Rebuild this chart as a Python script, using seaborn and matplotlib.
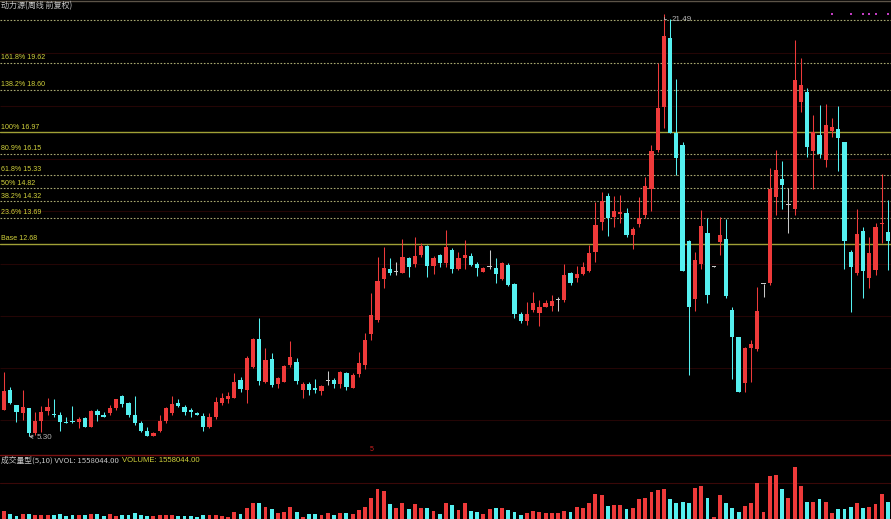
import numpy as np
import pandas as pd
import seaborn as sns
import matplotlib.pyplot as plt
from matplotlib.lines import Line2D
from matplotlib.transforms import blended_transform_factory

title = "动力源(周线 前复权)"

# weekly candles
opens = [6.32, 7.08, 6.50, 6.21, 6.39, 5.45, 5.91, 6.28, 6.16, 6.12,
         5.86, 5.89, 5.84, 6.00, 5.67, 6.28, 6.12, 6.19, 6.40, 6.85,
         6.57, 6.11, 5.81, 5.51, 5.33, 5.51, 5.91, 6.19, 6.57, 6.44,
         6.32, 6.21, 6.09, 5.65, 6.04, 6.57, 6.74, 6.79, 7.47, 7.10,
         7.98, 9.03, 7.40, 8.26, 7.30, 7.40, 8.04, 8.16, 7.08, 7.30,
         7.17, 7.06, 7.43, 7.45, 7.30, 7.72, 7.17, 7.68, 8.04, 9.24,
         9.78, 11.34, 11.72, 11.62, 11.58, 12.13, 11.93, 12.26, 12.59, 11.83,
         12.25, 11.95, 12.45, 11.72, 12.14, 12.22, 11.90, 11.62, 11.81, 11.77,
         11.33, 11.89, 11.13, 10.01, 9.72, 10.15, 10.04, 10.28, 10.30, 10.53,
         10.53, 11.56, 11.37, 11.53, 11.66, 12.39, 13.51, 14.52, 13.70, 13.83,
         13.87, 13.03, 13.45, 13.79, 14.79, 16.27, 17.94, 20.59, 16.94, 16.48,
         12.81, 10.56, 11.91, 13.12, 11.81, 12.77, 12.86, 10.16, 9.10, 7.34,
         8.68, 8.64, 11.15, 11.18, 14.48, 15.16, 14.18, 14.01, 18.14, 18.52,
         16.26, 16.86, 15.90, 17.02, 17.09, 16.59, 12.36, 11.56, 13.17, 11.37,
         11.67, 13.45, 13.15]
highs = [7.78, 7.19, 6.51, 7.08, 6.41, 6.25, 6.47, 6.79, 6.74, 6.23,
         6.06, 6.48, 6.06, 6.06, 6.32, 6.35, 6.25, 6.51, 6.75, 6.89,
         6.63, 6.85, 5.91, 5.66, 5.48, 6.12, 6.44, 6.85, 6.73, 6.51,
         6.38, 6.25, 6.19, 6.19, 6.83, 6.98, 7.02, 7.73, 7.59, 8.40,
         9.08, 9.84, 8.68, 8.49, 7.59, 8.05, 8.98, 8.30, 7.40, 7.40,
         7.50, 7.27, 7.81, 7.54, 7.81, 7.78, 7.72, 8.55, 9.26, 10.79,
         12.19, 12.58, 12.15, 11.98, 12.87, 12.19, 12.95, 12.71, 12.64, 12.23,
         12.29, 13.23, 12.51, 12.39, 12.82, 12.32, 12.00, 11.80, 12.45, 12.13,
         12.00, 11.96, 11.17, 10.06, 10.47, 10.85, 10.53, 10.53, 10.71, 10.64,
         11.91, 11.62, 11.85, 12.00, 12.64, 14.30, 14.69, 14.62, 14.52, 14.56,
         14.05, 13.34, 14.47, 15.26, 16.48, 19.61, 21.49, 21.30, 19.00, 16.60,
         12.83, 12.39, 13.97, 13.67, 11.83, 13.73, 13.63, 10.25, 9.13, 8.74,
         9.00, 11.04, 11.15, 15.58, 16.27, 15.87, 14.82, 20.50, 19.80, 18.66,
         17.61, 18.01, 18.05, 17.50, 17.97, 16.60, 12.45, 14.01, 13.33, 12.94,
         13.47, 15.36, 14.36]
lows = [6.30, 6.55, 5.87, 5.93, 5.30, 5.36, 5.48, 6.12, 6.06, 5.51,
        5.80, 5.82, 5.61, 5.65, 5.66, 5.91, 6.03, 6.12, 6.32, 6.44,
        6.06, 5.74, 5.48, 5.32, 5.31, 5.48, 5.83, 6.12, 6.42, 6.12,
        6.06, 6.11, 5.52, 5.61, 5.96, 6.51, 6.58, 6.77, 7.02, 6.58,
        7.93, 7.27, 7.35, 7.21, 7.16, 7.37, 7.98, 7.31, 6.76, 6.89,
        6.96, 6.89, 7.27, 7.15, 7.15, 7.08, 7.15, 7.59, 7.89, 9.00,
        9.70, 10.98, 11.49, 11.49, 11.56, 11.42, 11.81, 12.19, 11.43, 11.52,
        11.81, 11.81, 11.56, 11.68, 11.72, 11.84, 11.46, 11.59, 11.73, 11.20,
        11.30, 11.07, 9.83, 9.64, 9.57, 10.08, 9.54, 10.25, 10.12, 10.12,
        10.47, 11.11, 11.24, 11.49, 11.62, 12.00, 13.22, 12.99, 13.34, 13.50,
        12.94, 12.48, 13.34, 13.67, 13.96, 16.22, 17.12, 16.93, 15.31, 11.64,
        7.64, 10.12, 11.71, 10.41, 11.79, 12.26, 10.60, 7.50, 6.99, 7.02,
        7.40, 8.59, 10.66, 11.11, 13.79, 14.01, 13.11, 13.79, 17.75, 16.03,
        14.78, 15.97, 15.64, 16.79, 15.49, 11.71, 10.08, 11.49, 10.61, 10.98,
        11.49, 12.71, 11.68]
closes = [7.06, 6.60, 6.24, 6.44, 5.45, 5.91, 6.24, 6.42, 6.11, 5.84,
          5.82, 5.84, 5.96, 5.67, 6.29, 6.11, 6.06, 6.40, 6.73, 6.56,
          6.12, 5.83, 5.51, 5.33, 5.45, 5.91, 6.38, 6.53, 6.47, 6.25,
          6.23, 6.14, 5.65, 6.04, 6.63, 6.79, 6.87, 7.39, 7.12, 8.30,
          9.03, 7.41, 8.23, 7.27, 7.53, 8.00, 8.35, 7.43, 7.30, 7.08,
          7.08, 7.24, 7.43, 7.31, 7.76, 7.21, 7.66, 8.11, 9.00, 9.97,
          11.28, 11.75, 11.57, 11.62, 12.17, 11.80, 12.23, 12.59, 11.84, 12.15,
          11.94, 12.57, 11.73, 12.13, 12.26, 11.89, 11.75, 11.75, 11.81, 11.53,
          11.96, 11.12, 10.01, 9.72, 9.99, 10.42, 10.28, 10.41, 10.51, 10.53,
          11.49, 11.20, 11.54, 11.80, 12.32, 13.41, 14.32, 13.67, 13.96, 13.91,
          13.03, 13.24, 13.67, 14.89, 16.26, 17.90, 20.66, 16.95, 15.99, 11.66,
          10.28, 12.05, 13.36, 10.72, 11.81, 13.04, 10.67, 9.13, 7.02, 8.70,
          8.83, 10.12, 11.15, 14.78, 15.52, 14.94, 14.18, 18.97, 18.78, 16.41,
          16.99, 16.13, 17.24, 17.18, 16.73, 12.81, 11.78, 13.06, 11.66, 12.35,
          13.33, 13.50, 12.81]
# weekly volume, 10k shares
vol_wan = [69, 45, 27, 45, 45, 36, 39, 39, 39, 42,
           30, 39, 33, 33, 45, 45, 30, 45, 27, 39,
           36, 51, 33, 27, 24, 33, 33, 33, 30, 30,
           27, 21, 33, 33, 33, 30, 21, 60, 45, 96,
           147, 141, 111, 90, 57, 63, 111, 60, 21, 45,
           42, 36, 57, 39, 54, 51, 48, 84, 111, 186,
           270, 252, 132, 102, 141, 87, 135, 102, 99, 75,
           45, 141, 126, 81, 147, 72, 63, 45, 90, 96,
           99, 78, 66, 39, 57, 72, 63, 51, 51, 51,
           72, 63, 111, 96, 141, 225, 216, 117, 126, 126,
           90, 96, 177, 186, 246, 261, 267, 177, 141, 153,
           141, 276, 297, 186, 15, 216, 147, 99, 66, 117,
           141, 321, 66, 387, 396, 267, 186, 465, 297, 156,
           156, 177, 153, 57, 87, 87, 111, 147, 102, 111,
           135, 225, 155.8044]
last_vol = "1558044.00"

fib_labels = ["161.8% 19.62", "138.2% 18.60", "100% 16.97", "80.9% 16.15",
              "61.8% 15.33", "50% 14.82", "38.2% 14.32", "23.6% 13.69", "Base 12.68"]
fib_prices = [19.62, 18.60, 16.97, 16.15, 15.33, 14.82, 14.32, 13.69, 12.68]
solid_levels = ["100% 16.97", "Base 12.68"]
top_level = 21.26
grid_prices = [19.99, 17.97, 15.95, 13.93, 11.93, 9.92, 7.91, 5.92]
vol_grid = 321
dot_weeks = [133, 136, 138, 139, 140, 142]
max_week, max_price = 106, 21.49
min_week, min_price = 4, 5.30

UP, DOWN, FLAT = "#ee3a3a", "#55f0f0", "#c8c8c8"
BG = "black"

sns.set_theme(style="dark", rc={"axes.facecolor": BG, "figure.facecolor": BG})
plt.rcParams["font.family"] = ["Liberation Sans Narrow", "Liberation Sans", "DejaVu Sans"]
cjk = ["Noto Sans CJK SC", "DejaVu Sans"]

df = pd.DataFrame({"open": opens, "high": highs, "low": lows,
                   "close": closes, "vol": vol_wan})
df["week"] = np.arange(len(df))
df["kind"] = np.where(df.close > df.open, "up",
                      np.where(df.close < df.open, "down", "flat"))
pal = {"up": UP, "down": DOWN, "flat": FLAT}
cols = df.kind.map(pal)
# flat weeks get a red volume bar
df["vkind"] = df.kind.replace("flat", "up")

W, H = 891, 519
fig = plt.figure(figsize=(W / 100, H / 100), dpi=100)
ax = fig.add_axes([0, 65 / H, 1, 454 / H])
axv = fig.add_axes([0, 0, 1, 64 / H])
xlim = (-0.643, 142.48)

# price panel
ax.hlines(grid_prices, *xlim, color="#240505", lw=0.8, zorder=0)
ax.axhline(top_level, color="#a8a870", lw=0.8, ls=(0, (1.5, 1.5)), zorder=1)
tr = blended_transform_factory(ax.transAxes, ax.transData)
for lab, p in zip(fib_labels, fib_prices):
    if lab in solid_levels:
        ax.axhline(p, color="#a0a036", lw=1.0, zorder=1)
    else:
        ax.axhline(p, color="#a8a870", lw=0.8, ls=(0, (1.5, 1.5)), zorder=1)
    ax.text(0.001, p + 0.06, lab, transform=tr, fontsize=5.1, color="#d2d23c",
            va="bottom", ha="left", zorder=5)

ax.vlines(df.week, df.low, df.high, colors=cols, lw=0.75, zorder=2)
body = (df.close - df.open).abs().clip(lower=0.03)
ax.bar(df.week, body, bottom=df[["open", "close"]].min(axis=1), width=0.68,
       color=cols, linewidth=0, zorder=3)

ax.scatter(dot_weeks, [21.5] * len(dot_weeks), s=3, marker="s", color="#c23cc2",
           linewidths=0, zorder=4)
ax.annotate(f"{max_price:.2f}", xy=(max_week, max_price), xytext=(max_week + 1.3, max_price - 0.2),
            fontsize=5.8, color="#b4b4b4", va="center",
            arrowprops=dict(arrowstyle="-", color="#b4b4b4", lw=0.6,
                            connectionstyle="angle,angleA=0,angleB=90,rad=0"))
ax.annotate(f"{min_price:.2f}", xy=(min_week, min_price), xytext=(min_week + 1.2, min_price - 0.04),
            fontsize=5.8, color="#b4b4b4", va="center",
            arrowprops=dict(arrowstyle="->", color="#b4b4b4", lw=0.6, shrinkA=0, shrinkB=0))
ax.text(59, 4.66, "5", fontsize=5, color="#d02020", ha="center", va="bottom")
ax.set_xlim(*xlim)
ax.set_ylim(4.628, 22.036)
ax.axis("off")

# volume panel
axv.axhline(vol_grid, color="#3a0808", lw=0.8, zorder=0)
sns.barplot(data=df, x="week", y="vol", hue="vkind", palette=pal, native_scale=True,
            width=0.62, legend=False, linewidth=0, saturation=1, ax=axv, zorder=2)
axv.set_xlim(*xlim)
axv.set_ylim(0, 576)
axv.axis("off")

fig.add_artist(Line2D([0, 1], [64.5 / H] * 2, transform=fig.transFigure,
                      color="#7a1010", lw=1.0))
fig.add_artist(Line2D([0, 1], [1 - 0.5 / H] * 2, transform=fig.transFigure,
                      color="#5c5448", lw=1.0))

fig.text(1 / W, 1 - 6 / H, title, fontsize=5.8, color="#c8c8c8",
         family=cjk, va="center", ha="left")
fig.text(1 / W, 1 - 460 / H, f"成交量型(5,10) VVOL: {last_vol}", fontsize=5.6,
         color="#c8c8c8", family=cjk, va="center", ha="left")
fig.text(122 / W, 1 - 460 / H, f"VOLUME: {last_vol}", fontsize=5.6,
         color="#d2d23c", va="center", ha="left")

fig.savefig("out.png", dpi=100, facecolor=BG)
